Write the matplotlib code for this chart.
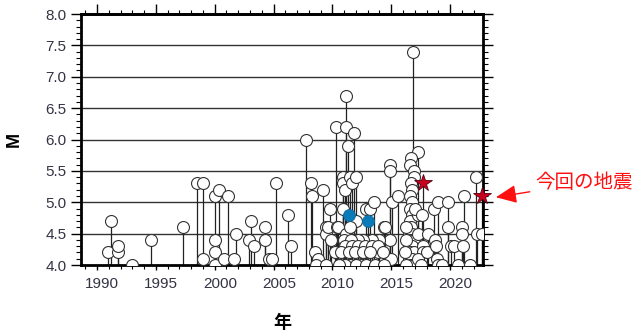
import matplotlib
matplotlib.use("Agg")
import matplotlib.pyplot as plt
import matplotlib.transforms as mtransforms
from matplotlib.ticker import MultipleLocator

# white circles: (decimal year, magnitude)
years = [
    1990.9, 1991.2, 1991.75, 1991.8, 1993.0, 1994.6, 1997.3, 1998.5, 1999.0, 1999.0,
    2000.0, 2000.4, 2000.0, 2000.0, 2000.0, 2000.8, 2001.15, 2001.65, 2001.8, 2002.9,
    2003.1, 2003.3, 2004.3, 2004.3, 2004.6, 2004.9, 2005.2, 2006.2, 2006.45, 2007.8,
    2008.15, 2008.3, 2008.5, 2008.8, 2008.6, 2009.2, 2009.8, 2009.45, 2009.45, 2009.5,
    2009.6, 2009.9, 2010.2, 2010.4, 2010.5, 2010.3, 2010.9, 2010.9, 2011.1, 2011.15,
    2011.15, 2011.35, 2011.8, 2011.5, 2011.7, 2012.05, 2012.0, 2012.85, 2010.9, 2013.2,
    2013.5, 2014.4, 2014.5, 2014.9, 2014.9, 2015.1, 2015.55, 2014.9, 2015.0, 2014.0,
    2013.4, 2012.6, 2012.4, 2011.5, 2011.1, 2012.4, 2013.0, 2013.9, 2011.2, 2011.5,
    2012.2, 2011.0, 2011.6, 2011.1, 2011.65, 2012.2, 2012.8, 2013.35, 2013.9, 2010.7,
    2011.4, 2011.9, 2012.6, 2013.2, 2014.3, 2010.6, 2012.0, 2012.9, 2013.6, 2014.4,
    # 2016 sequence
    2016.85, 2017.3, 2016.7, 2016.6, 2016.9, 2016.95, 2016.7, 2016.8, 2016.6, 2016.8,
    2016.6, 2016.8, 2016.6, 2016.7, 2016.5, 2016.8, 2016.6, 2016.9, 2016.5, 2016.8,
    2016.6, 2016.9, 2016.5, 2016.8, 2016.6, 2016.9, 2016.3, 2016.3, 2016.2, 2016.3,
    2017.3, 2017.0, 2017.6, 2017.3, 2017.7, 2017.7, 2017.3, 2017.5, 2018.0, 2018.15,
    2018.65, 2018.95, 2018.7, 2018.8, 2018.85, 2019.0, 2019.3, 2019.8, 2019.8, 2020.1,
    2020.3, 2020.7, 2021.0, 2021.0, 2021.1, 2021.2, 2021.7, 2022.2, 2022.25, 2022.75,
]
mags = [
    4.2, 4.7, 4.2, 4.3, 4.0, 4.4, 4.6, 5.3, 5.3, 4.1,
    5.1, 5.2, 4.4, 4.2, 4.0, 4.1, 5.1, 4.1, 4.5, 4.4,
    4.7, 4.3, 4.6, 4.4, 4.1, 4.1, 5.3, 4.8, 4.3, 6.0,
    5.3, 5.1, 4.2, 4.1, 4.0, 5.2, 4.9, 4.6, 4.5, 4.0,
    4.6, 4.4, 4.2, 4.6, 4.6, 6.2, 5.4, 5.3, 5.2, 6.7,
    6.2, 5.9, 6.1, 5.4, 5.3, 5.4, 4.7, 4.9, 4.9, 4.9,
    5.0, 4.6, 4.6, 5.6, 5.5, 5.0, 5.1, 4.4, 4.1, 4.4,
    4.4, 4.4, 4.0, 4.0, 4.0, 4.2, 4.2, 4.2, 4.5, 4.6,
    4.4, 4.4, 4.4, 4.3, 4.3, 4.3, 4.3, 4.3, 4.3, 4.2,
    4.2, 4.2, 4.2, 4.2, 4.2, 4.0, 4.0, 4.0, 4.0, 4.0,
    7.4, 5.8, 5.7, 5.6, 5.5, 5.4, 5.3, 5.2, 5.1, 5.0,
    4.9, 4.8, 4.7, 4.6, 4.5, 4.5, 4.4, 4.4, 4.3, 4.3,
    4.2, 4.2, 4.1, 4.1, 4.0, 4.0, 4.6, 4.4, 4.2, 4.0,
    4.8, 4.9, 4.8, 4.5, 4.3, 4.2, 4.1, 4.0, 4.2, 4.5,
    4.9, 5.0, 4.4, 4.3, 4.1, 4.0, 4.0, 5.0, 4.6, 4.3,
    4.3, 4.0, 4.6, 4.5, 4.3, 5.1, 4.0, 5.4, 4.5, 4.5,
]

blue_years = [2011.4, 2013.05]
blue_mags = [4.8, 4.7]

star_years = [2017.7, 2022.75]
star_mags = [5.3, 5.1]

label_years = [1990, 1995, 2000, 2005, 2010, 2015, 2020]

fig = plt.figure(figsize=(6.35, 3.36), dpi=100)
ax = fig.add_axes([0.1276, 0.2113, 0.633, 0.747])

ax.set_xlim(1988.64, 2022.8)
ax.set_ylim(4.0, 8.0)

for m in [4.5, 5.0, 5.5, 6.0, 6.5, 7.0, 7.5]:
    ax.axhline(m, color="#333333", lw=1.0, zorder=1)

all_x = years + blue_years + star_years
all_y = mags + blue_mags + star_mags
ax.vlines(all_x, 4.0, all_y, color="#222222", lw=0.9, zorder=2)

ax.plot(years, mags, "o", ms=8.6, mfc="white", mec="#333333", mew=0.8, ls="none", zorder=3)
ax.plot(blue_years, blue_mags, "o", ms=8.6, mfc="#0a7ab8", mec="#0a6aa0", mew=0.6, ls="none", zorder=4)
ax.plot(star_years, star_mags, "*", ms=13, mfc="#c8001e", mec="#5a0010", mew=0.6, ls="none",
        zorder=5, clip_on=False)

# ticks
ax.xaxis.set_major_locator(MultipleLocator(5))
ax.xaxis.set_minor_locator(MultipleLocator(1))
ax.yaxis.set_major_locator(MultipleLocator(0.5))
ax.yaxis.set_minor_locator(MultipleLocator(0.1))
ax.tick_params(axis="x", which="major", direction="out", length=3.5, width=1, labelbottom=False)
ax.tick_params(axis="x", which="minor", direction="out", length=3, width=0.8)
ax.tick_params(axis="y", which="major", direction="out", length=7, width=1,
               right=True, labelsize=11, labelcolor="#333344")
ax.tick_params(axis="y", which="minor", direction="out", length=3.5, width=0.8, right=True)
ax.yaxis.set_major_formatter(matplotlib.ticker.FormatStrFormatter("%.1f"))
for lbl in ax.get_yticklabels():
    lbl.set_fontfamily("Liberation Sans")

top = ax.secondary_xaxis("top")
top.xaxis.set_major_locator(MultipleLocator(5))
top.xaxis.set_minor_locator(MultipleLocator(1))
top.tick_params(which="major", direction="out", length=7.5, width=1, labeltop=False)
top.tick_params(which="minor", direction="out", length=3, width=0.8)
top.spines["top"].set_linewidth(2)

for s in ax.spines.values():
    s.set_linewidth(2)

trans = mtransforms.blended_transform_factory(ax.transData, ax.transAxes)
for yr in label_years:
    ax.text(yr + 0.45, -0.075, str(yr), transform=trans, ha="center", va="center",
            fontsize=11, color="#333344", family="Liberation Sans")

ax.text(-0.165, 0.5, "M", transform=ax.transAxes, rotation=90, ha="center", va="center",
        fontsize=13, fontweight="bold", family="Liberation Sans")
ax.text(0.5, -0.23, "年", transform=ax.transAxes, ha="center", va="center",
        fontsize=13, fontweight="bold", family=["Noto Sans CJK JP", "DejaVu Sans"])

ax.annotate("今回の地震", xy=(2023.9, 5.08), xycoords="data",
            xytext=(584, 153), textcoords="figure pixels",
            ha="center", va="center", fontsize=14, color="#ff1010",
            family=["Noto Sans CJK JP", "DejaVu Sans"], annotation_clip=False,
            arrowprops=dict(arrowstyle="-|>,head_length=0.9,head_width=0.4",
                            color="#ff1010", lw=1.0, shrinkA=2, shrinkB=0))

fig.savefig("out.png", dpi=100)
